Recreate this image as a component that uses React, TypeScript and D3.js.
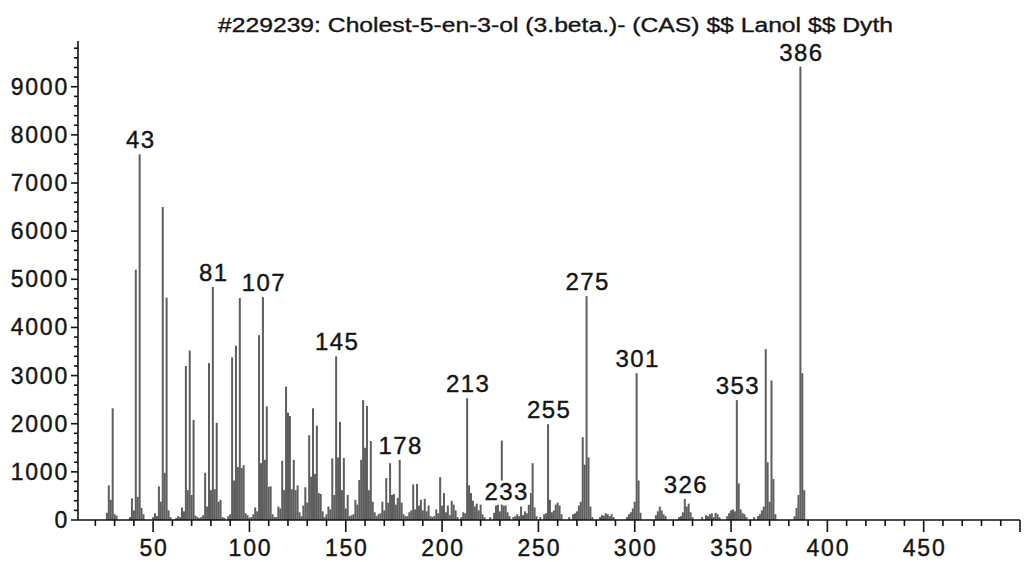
import React, { useEffect, useRef } from "react";
import * as d3 from "d3";

// Mass spectrum of cholesterol: m/z values and their abundances
const MZ = [
  26, 27, 28, 29, 30, 31,
  38, 39, 40, 41, 42, 43, 44, 45,
  50, 51, 52, 53, 54, 55, 56, 57, 58, 59,
  62, 63, 64, 65, 66, 67, 68, 69, 70, 71, 72, 73,
  74, 75, 76, 77, 78, 79, 80, 81, 82, 83, 84, 85, 86, 87,
  89, 90, 91, 92, 93, 94, 95, 96, 97, 98, 99, 100,
  101, 102, 103, 104, 105, 106, 107, 108, 109, 110, 111, 112, 113,
  114, 115, 116, 117, 118, 119, 120, 121, 122, 123, 124, 125, 126, 127,
  128, 129, 130, 131, 132, 133, 134, 135, 136, 137, 138, 139,
  140, 141, 142, 143, 144, 145, 146, 147, 148, 149, 150, 151, 152,
  153, 154, 155, 156, 157, 158, 159, 160, 161, 162, 163, 164, 165, 166,
  167, 168, 169, 170, 171, 172, 173, 174, 175, 176, 177, 178, 179, 180,
  181, 182, 183, 184, 185, 186, 187, 188, 189, 190, 191, 192, 193, 194,
  195, 196, 197, 198, 199, 200, 201, 202, 203, 204, 205, 206, 207, 208,
  210, 211, 212, 213, 214, 215, 216, 217, 218, 219, 220, 221, 222,
  225, 227, 228, 229, 230, 231, 232, 233, 234, 235,
  237, 238, 239, 240, 241, 242, 243, 244, 245, 246, 247, 248, 249,
  251, 253, 254, 255, 256, 257, 258, 259, 260, 261, 262,
  266, 268, 269, 270, 271, 272, 273, 274, 275, 276, 277, 278,
  282, 283, 284, 285, 286, 287, 288, 289,
  296, 297, 298, 299, 300, 301, 302, 303,
  311, 312, 313, 314, 315, 316,
  323, 324, 325, 326, 327, 328, 329, 330,
  335, 337, 338, 339, 340, 341, 342, 343, 344,
  348, 349, 350, 351, 352, 353, 354, 355, 356, 357, 358,
  362, 364, 365, 366, 367, 368, 369, 370, 371, 372, 373,
  383, 384, 385, 386, 387, 388,
];

const INTENSITY = [
  150, 720, 420, 2320, 120, 90,
  60, 450, 200, 5200, 480, 7600, 250, 120,
  60, 140, 80, 700, 380, 6500, 980, 4620, 200, 60,
  40, 80, 60, 260, 180, 3200, 620, 3520, 520, 2080, 90, 60,
  40, 60, 100, 980, 280, 3260, 620, 4840, 640, 2020, 380, 420, 60, 40,
  80, 120, 3380, 820, 3620, 1100, 4610, 1080, 1140, 140, 100, 50,
  60, 120, 260, 180, 3840, 1180, 4630, 1250, 2360, 690, 700, 120, 60,
  60, 280, 240, 1230, 620, 2770, 2230, 2160, 640, 1250, 620, 720, 160, 80,
  300, 680, 360, 1760, 900, 2320, 960, 1960, 560, 540, 180, 60,
  120, 280, 220, 1280, 520, 3400, 1300, 2040, 620, 1290, 240, 520, 80,
  100, 120, 420, 320, 830, 1250, 2490, 1500, 2370, 620, 1640, 380, 160, 80,
  120, 140, 380, 200, 870, 360, 1180, 520, 540, 320, 460, 1250, 360, 120,
  80, 80, 160, 200, 740, 220, 750, 300, 420, 200, 440, 180, 300, 80,
  60, 80, 220, 140, 890, 300, 560, 160, 300, 100, 400, 320, 200, 60,
  60, 160, 140, 2530, 720, 560, 400, 280, 340, 200, 320, 120, 60,
  60, 150, 300, 320, 180, 1650, 300, 300, 160, 80,
  60, 80, 120, 80, 280, 100, 180, 140, 320, 560, 1180, 260, 80,
  60, 120, 140, 1990, 420, 160, 200, 320, 360, 300, 120,
  60, 120, 140, 180, 300, 380, 1720, 1150, 4650, 1300, 280, 60,
  60, 100, 90, 140, 120, 80, 120, 60,
  60, 120, 160, 240, 380, 3050, 820, 150,
  100, 180, 280, 200, 120, 80,
  60, 80, 160, 440, 280, 340, 160, 60,
  60, 100, 80, 120, 140, 60, 150, 120, 60,
  80, 140, 200, 220, 180, 2490, 760, 220, 140, 120, 60,
  60, 80, 120, 200, 280, 3550, 1200, 380, 2900, 850, 120,
  80, 250, 520, 9420, 3050, 620,
];

// m/z values that carry a text annotation above their line
const LABELED_MZ = [43, 81, 107, 145, 178, 213, 233, 255, 275, 301, 326, 353, 386];

const TITLE = "#229239: Cholest-5-en-3-ol (3.beta.)- (CAS) $$ Lanol $$ Dyth";

const X_LABELS = [50, 100, 150, 200, 250, 300, 350, 400, 450];
const Y_LABELS = [0, 1000, 2000, 3000, 4000, 5000, 6000, 7000, 8000, 9000];

const FONT = "'Liberation Sans', Arial, Helvetica, sans-serif";
const INK = "#151515";

export default function App() {
  const ref = useRef<SVGSVGElement | null>(null);

  useEffect(() => {
    const svg = d3.select(ref.current);
    svg.selectAll("*").remove();

    const x = d3.scaleLinear().domain([11, 500]).range([78, 1020]);
    const y = d3.scaleLinear().domain([0, 9950]).range([520, 41]);

    svg.append("rect").attr("width", 1024).attr("height", 562).attr("fill", "#ffffff");

    // title
    svg
      .append("text")
      .attr("x", 218)
      .attr("y", 32)
      .attr("textLength", 675)
      .attr("lengthAdjust", "spacingAndGlyphs")
      .attr("font-family", FONT)
      .attr("font-size", 20)
      .attr("fill", INK)
      .attr("stroke", INK)
      .attr("stroke-width", 0.35)
      .text(TITLE);

    // spectrum lines
    const peaks = MZ.map((m, i) => ({ mz: m, value: INTENSITY[i] }));
    svg
      .append("g")
      .selectAll("line")
      .data(peaks)
      .join("line")
      .attr("x1", (d) => x(d.mz))
      .attr("x2", (d) => x(d.mz))
      .attr("y1", y(0))
      .attr("y2", (d) => y(d.value))
      .attr("stroke", "#5e5e5e")
      .attr("stroke-width", 2);

    // axes
    const axes = svg.append("g").attr("stroke", "#111").attr("stroke-width", 1.6);
    axes.append("line").attr("x1", 71).attr("x2", 1020).attr("y1", y(0)).attr("y2", y(0));
    axes.append("line").attr("x1", 78).attr("x2", 78).attr("y1", y(0)).attr("y2", 41);

    // y ticks: major every 1000, minor every 200
    const yTicks = d3.range(200, 9801, 200);
    axes
      .selectAll("line.yt")
      .data(yTicks)
      .join("line")
      .attr("class", "yt")
      .attr("x1", (d) => (d % 1000 === 0 ? 71 : 74))
      .attr("x2", 78)
      .attr("y1", (d) => y(d))
      .attr("y2", (d) => y(d));

    // x ticks: every 10, longer every 50
    const xTicks = d3.range(20, 501, 10);
    axes
      .selectAll("line.xt")
      .data(xTicks)
      .join("line")
      .attr("class", "xt")
      .attr("x1", (d) => x(d))
      .attr("x2", (d) => x(d))
      .attr("y1", y(0))
      .attr("y2", (d) => y(0) + (d % 50 === 0 ? 12 : 6));

    const labelStyle = (sel: any, size: number, spacing: number) =>
      sel
        .attr("font-family", FONT)
        .attr("font-size", size)
        .attr("letter-spacing", spacing)
        .attr("fill", INK)
        .attr("stroke", INK)
        .attr("stroke-width", 0.4);

    svg
      .append("g")
      .selectAll("text")
      .data(Y_LABELS)
      .join("text")
      .attr("x", 69)
      .attr("y", (d) => y(d) + 8)
      .attr("text-anchor", "end")
      .call(labelStyle, 23, 1.8)
      .text((d) => String(d));

    svg
      .append("g")
      .selectAll("text")
      .data(X_LABELS)
      .join("text")
      .attr("x", (d) => x(d) + 1)
      .attr("y", 556)
      .attr("text-anchor", "middle")
      .call(labelStyle, 23, 1.8)
      .text((d) => String(d));

    // peak annotations with an opaque backing box
    const ann = svg.append("g");
    LABELED_MZ.forEach((m) => {
      const v = INTENSITY[MZ.indexOf(m)];
      const g = ann.append("g");
      const t = g
        .append("text")
        .attr("x", x(m) + 1)
        .attr("y", y(v) - 6)
        .attr("text-anchor", "middle")
        .call(labelStyle, 24, 1.4)
        .text(String(m));
      const bb = (t.node() as SVGTextElement).getBBox();
      g.insert("rect", "text")
        .attr("x", bb.x - 1)
        .attr("y", bb.y + 3)
        .attr("width", bb.width + 2)
        .attr("height", bb.height - 3)
        .attr("fill", "#ffffff")
        .attr("stroke", "none");
    });
  }, []);

  return (
    <svg
      ref={ref}
      width={1024}
      height={562}
      style={{ position: "absolute", left: 0, top: 0, display: "block" }}
    />
  );
}
